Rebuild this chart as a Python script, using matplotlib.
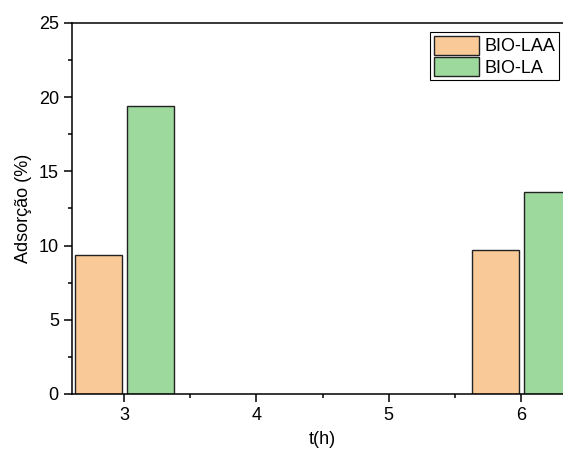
import numpy as np
import matplotlib.pyplot as plt

plt.rcParams['font.family'] = ['Liberation Sans', 'DejaVu Sans']

horas = [3, 6]
bio_laa = [9.39, 9.68]
bio_la = [19.43, 13.63]
xticks = [3, 4, 5, 6]

cor_laa = '#FAC998'
cor_la = '#9DD89D'

fig = plt.figure(figsize=(5.63, 4.57), dpi=100)
ax = fig.add_axes([0.128, 0.138, 0.89, 0.812])

x = np.array(horas)
w = 0.355
ax.bar(x - 0.195, bio_laa, w, color=cor_laa, edgecolor='#222222', linewidth=1, label='BIO-LAA')
ax.bar(x + 0.198, bio_la, w, color=cor_la, edgecolor='#222222', linewidth=1, label='BIO-LA')

ax.set_xlim(2.605, 6.395)
ax.set_ylim(0, 25)
ax.set_xticks(xticks)
ax.set_xticks([3.5, 4.5, 5.5], minor=True)
ax.set_yticks([0, 5, 10, 15, 20, 25])
ax.set_yticks(np.arange(2.5, 25, 5), minor=True)
ax.tick_params(which='major', direction='out', length=6, width=1.1, labelsize=13)
ax.tick_params(which='minor', direction='out', length=3, width=1.1)
ax.spines['right'].set_visible(False)
for s in ['left', 'bottom', 'top']:
    ax.spines[s].set_linewidth(1.1)

ax.set_xlabel('t(h)', fontsize=13, labelpad=5)
ax.set_ylabel('Adsorção (%)', fontsize=13, labelpad=5)

leg = ax.legend(loc='upper left', bbox_to_anchor=(430 / 563, 1 - 32 / 457),
                bbox_transform=fig.transFigure, fontsize=13,
                frameon=True, fancybox=False, edgecolor='black', framealpha=1,
                handlelength=2.5, handleheight=1.25, handletextpad=0.3,
                labelspacing=0.1, borderpad=0.2, borderaxespad=0)
leg.get_frame().set_linewidth(0.8)

fig.savefig('out.png', dpi=100)
